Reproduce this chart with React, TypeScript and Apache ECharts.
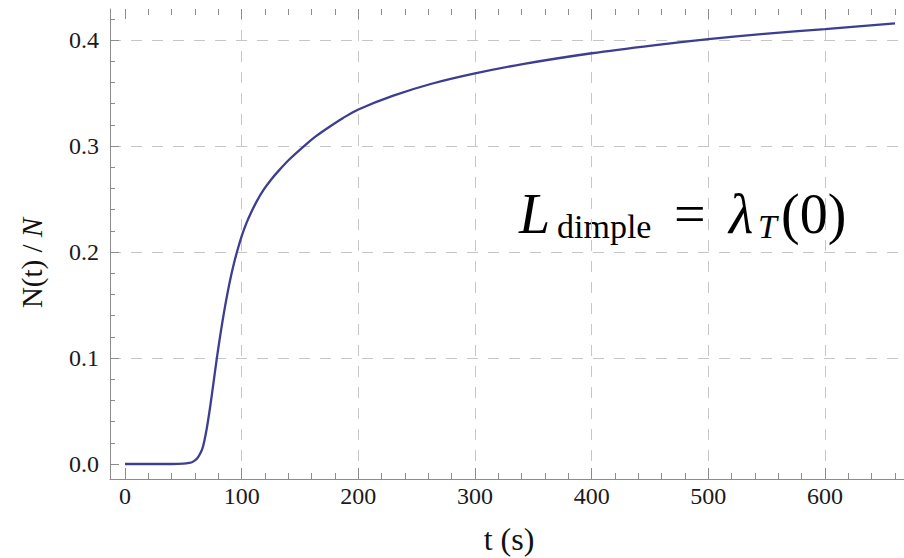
import React, { useEffect, useRef } from "react";
import * as echarts from "echarts";

// Time since start of the run (s) and the normalised count N(t)/N
const timeS = [0, 20, 40, 50, 55, 58, 62, 65, 67, 70, 73, 76, 79, 82, 85, 88, 91, 94, 97, 100, 104, 108, 113, 119, 125, 132, 141, 153, 164, 175, 187, 200, 230, 262, 300, 342, 400, 453, 500, 548, 600, 660];
const fraction = [0, 0, 0, 0.0003, 0.001, 0.002, 0.0055, 0.011, 0.017, 0.033, 0.054, 0.078, 0.102, 0.124, 0.144, 0.162, 0.178, 0.192, 0.204, 0.215, 0.227, 0.237, 0.248, 0.259, 0.268, 0.277, 0.2875, 0.2995, 0.3095, 0.318, 0.3265, 0.3345, 0.3475, 0.3585, 0.3685, 0.3775, 0.3875, 0.395, 0.4008, 0.4058, 0.4103, 0.4157];

// Tick positions
const xMajorTicks = [0, 100, 200, 300, 400, 500, 600];
const xMinorTicks = [20, 40, 60, 80, 120, 140, 160, 180, 220, 240, 260, 280, 320, 340, 360, 380, 420, 440, 460, 480, 520, 540, 560, 580, 620, 640, 660];
const xGridLines = [100, 200, 300, 400, 500, 600];
const yMajorTicks = [0, 0.1, 0.2, 0.3, 0.4];
const yMinorTicks = [0.02, 0.04, 0.06, 0.08, 0.12, 0.14, 0.16, 0.18, 0.22, 0.24, 0.26, 0.28, 0.32, 0.34, 0.36, 0.38, 0.42];
const yGridLines = [0.1, 0.2, 0.3, 0.4];

const X_MIN = -12.86;
const X_MAX = 667.7;
const Y_MIN = -0.01415;
const Y_MAX = 0.42925;

const SERIF = "'Liberation Serif', 'Times New Roman', serif";
const AXIS_GRAY = "#8c8c8c";
const GRID_GRAY = "#c6c6c6";
const LINE_COLOR = "#3d3d92";

type Pos = "bottom" | "top" | "left" | "right";

function xAxisLayer(position: Pos, ticks: number[], len: number, extra: any = {}) {
  return {
    type: "value",
    min: X_MIN,
    max: X_MAX,
    position,
    axisLine: { show: false, onZero: false },
    axisTick: { show: len > 0, inside: true, length: len, customValues: ticks, lineStyle: { color: AXIS_GRAY, width: 1 } },
    axisLabel: { show: false },
    splitLine: { show: false },
    ...extra,
  };
}

function yAxisLayer(position: Pos, ticks: number[], len: number, extra: any = {}) {
  return {
    type: "value",
    min: Y_MIN,
    max: Y_MAX,
    position,
    axisLine: { show: false, onZero: false },
    axisTick: { show: len > 0, inside: true, length: len, customValues: ticks, lineStyle: { color: AXIS_GRAY, width: 1 } },
    axisLabel: { show: false },
    splitLine: { show: false },
    ...extra,
  };
}

const gridLineStyle = { color: GRID_GRAY, width: 1, type: [11, 10] };

export default function App() {
  const ref = useRef<HTMLDivElement>(null);

  useEffect(() => {
    if (!ref.current) return;
    const chart = echarts.init(ref.current, null, { renderer: "svg" });

    const points = timeS.map((t, i) => [t, fraction[i]]);

    chart.setOption({
      animation: false,
      backgroundColor: "#ffffff",
      grid: { left: 110, right: 0, top: 9, bottom: 79, containLabel: false },
      xAxis: [
        // bottom axis: line, major ticks, labels
        xAxisLayer("bottom", xMajorTicks, 11, {
          axisLine: { show: true, onZero: false, lineStyle: { color: AXIS_GRAY, width: 1 } },
          axisLabel: {
            show: true,
            customValues: xMajorTicks,
            margin: 5,
            color: "#1a1a1a",
            fontFamily: SERIF,
            fontSize: 24,
            formatter: (v: number) => String(Math.round(v)),
          },
        }),
        xAxisLayer("bottom", xMinorTicks, 6),
        xAxisLayer("top", xMajorTicks, 10),
        xAxisLayer("top", xMinorTicks, 6),
        // vertical dashed grid
        xAxisLayer("bottom", xGridLines, 0, {
          axisTick: { show: false, customValues: xGridLines },
          splitLine: { show: true, lineStyle: gridLineStyle },
        }),
      ],
      yAxis: [
        yAxisLayer("left", yMajorTicks, 9, {
          axisLine: { show: true, onZero: false, lineStyle: { color: AXIS_GRAY, width: 1 } },
          axisLabel: {
            show: true,
            customValues: yMajorTicks,
            margin: 11,
            color: "#1a1a1a",
            fontFamily: SERIF,
            fontSize: 24,
            formatter: (v: number) => v.toFixed(1),
          },
        }),
        yAxisLayer("left", yMinorTicks, 5),
        // horizontal dashed grid
        yAxisLayer("left", yGridLines, 0, {
          axisTick: { show: false, customValues: yGridLines },
          splitLine: { show: true, lineStyle: gridLineStyle },
        }),
      ],
      series: [
        {
          type: "line",
          xAxisIndex: 0,
          yAxisIndex: 0,
          data: points,
          showSymbol: false,
          smooth: 0.3,
          lineStyle: { color: LINE_COLOR, width: 2.3 },
          z: 10,
        },
      ],
      graphic: [
        // axis titles
        {
          type: "text",
          x: 509,
          y: 539,
          style: {
            text: "t (s)",
            fontFamily: SERIF,
            fontSize: 32,
            fill: "#111",
            align: "center",
            verticalAlign: "middle",
          },
        },
        {
          type: "text",
          x: 32,
          y: 263,
          rotation: Math.PI / 2,
          style: {
            text: "{u|N(t) / }{i|N}",
            align: "center",
            verticalAlign: "middle",
            fill: "#111",
            rich: {
              u: { fontFamily: SERIF, fontSize: 29, fill: "#111" },
              i: { fontFamily: SERIF, fontSize: 29, fontStyle: "italic", fill: "#111" },
            },
          },
        },
        // formula annotation: L_dimple = λ_T(0)
        {
          type: "group",
          children: [
            { type: "text", x: 519, y: 214, style: { text: "L", fontFamily: SERIF, fontStyle: "italic", fontSize: 56, fill: "#000", verticalAlign: "middle" } },
            { type: "text", x: 557, y: 226, style: { text: "dimple", fontFamily: SERIF, fontSize: 34, fill: "#000", verticalAlign: "middle" } },
            { type: "text", x: 674, y: 214, style: { text: "=", fontFamily: SERIF, fontSize: 56, fill: "#000", verticalAlign: "middle" } },
            { type: "text", x: 729, y: 214, style: { text: "λ", fontFamily: SERIF, fontStyle: "italic", fontSize: 56, fill: "#000", verticalAlign: "middle" } },
            { type: "text", x: 758, y: 226, style: { text: "T", fontFamily: SERIF, fontStyle: "italic", fontSize: 34, fill: "#000", verticalAlign: "middle" } },
            { type: "text", x: 781, y: 214, style: { text: "(0)", fontFamily: SERIF, fontSize: 56, fill: "#000", verticalAlign: "middle" } },
          ],
        },
      ],
    });

    return () => chart.dispose();
  }, []);

  return (
    <div
      ref={ref}
      style={{ position: "fixed", left: 0, top: 0, width: 904, height: 558, background: "#fff" }}
    />
  );
}
